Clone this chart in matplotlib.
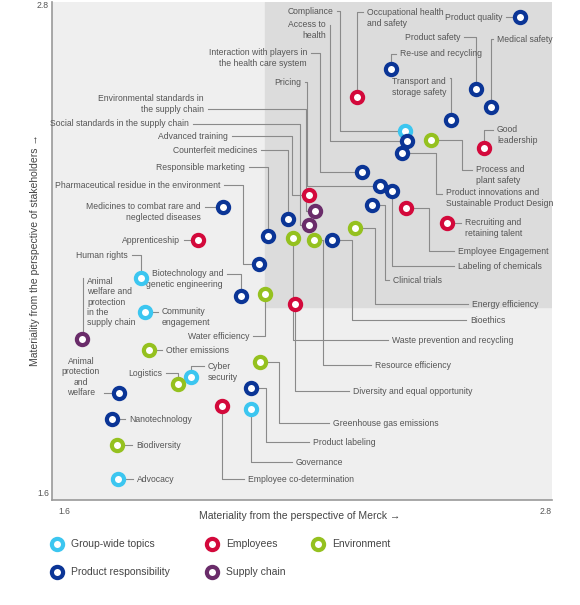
import matplotlib
matplotlib.use("Agg")
import matplotlib.pyplot as plt
from matplotlib.patches import Rectangle

plt.rcParams['font.family'] = ['Liberation Sans', 'DejaVu Sans']

# --- data: materiality scores (Merck, stakeholders) ---
topics = [
    "Product quality", "Medical safety", "Product safety", "Re-use and recycling",
    "Transport and\nstorage safety", "Occupational health\nand safety", "Compliance",
    "Access to\nhealth", "Good\nleadership", "Process and\nplant safety",
    "Product innovations and\nSustainable Product Design",
    "Interaction with players in\nthe health care system", "Pricing",
    "Environmental standards in\nthe supply chain", "Social standards in the supply chain",
    "Advanced training", "Counterfeit medicines", "Responsible marketing",
    "Pharmaceutical residue in the environment",
    "Medicines to combat rare and\nneglected diseases", "Apprenticeship", "Human rights",
    "Biotechnology and\ngenetic engineering", "Water efficiency",
    "Animal\nwelfare and\nprotection\nin the\nsupply chain", "Community\nengagement",
    "Other emissions", "Cyber\nsecurity", "Logistics",
    "Animal\nprotection\nand\nwelfare", "Nanotechnology", "Biodiversity", "Advocacy",
    "Greenhouse gas emissions", "Product labeling", "Governance",
    "Employee co-determination", "Diversity and equal opportunity",
    "Resource efficiency", "Waste prevention and recycling", "Bioethics",
    "Energy efficiency", "Clinical trials", "Labeling of chemicals",
    "Employee Engagement", "Recruiting and\nretaining talent",
]
merck = [2.723, 2.654, 2.618, 2.414, 2.558, 2.332, 2.447, 2.452, 2.637, 2.510,
         2.440, 2.344, 2.387, 2.231, 2.217, 2.217, 2.166, 2.118, 2.097, 2.010,
         1.950, 1.814, 2.054, 2.111, 1.672, 1.823, 1.833, 1.934, 1.902, 1.761,
         1.744, 1.756, 1.758, 2.099, 2.078, 2.078, 2.008, 2.183, 2.229, 2.178,
         2.272, 2.327, 2.368, 2.416, 2.450, 2.548]
stakeholders = [2.764, 2.547, 2.591, 2.639, 2.516, 2.571, 2.489, 2.465, 2.448, 2.468,
                2.436, 2.390, 2.357, 2.296, 2.263, 2.335, 2.277, 2.236, 2.169, 2.306,
                2.227, 2.135, 2.092, 2.096, 1.988, 2.053, 1.962, 1.896, 1.880, 1.858,
                1.795, 1.733, 1.651, 1.933, 1.870, 1.819, 1.827, 2.072, 2.227, 2.231,
                2.227, 2.256, 2.311, 2.345, 2.304, 2.268]
groups = ["prod", "prod", "prod", "prod", "prod", "emp", "group", "prod", "emp", "env",
          "prod", "prod", "prod", "supply", "supply", "emp", "prod", "prod", "prod", "prod",
          "emp", "group", "prod", "env", "supply", "group", "env", "group", "env", "prod",
          "prod", "env", "group", "env", "prod", "group", "emp", "emp", "env", "env",
          "prod", "env", "prod", "prod", "emp", "emp"]

group_names = {"group": "Group-wide topics", "emp": "Employees", "env": "Environment",
               "prod": "Product responsibility", "supply": "Supply chain"}
colors = {"group": "#3cc6f0", "emp": "#d3093b", "env": "#95c11f",
          "prod": "#0b3596", "supply": "#6a2c6a"}

# label layout in pixels: text x, text y, ha, line y, elbow x
layout = [
    (502, 17, "right", 17, 520), (497, 39, "left", 39, 491), (460, 37, "right", 37, 476),
    (400, 54, "left", 54, 391), (446, 87, "right", 78, 451), (367, 18, "left", 12, 357),
    (333, 11, "right", 11, 340), (326, 30, "right", 25, 330), (497, 135, "left", 130, 484),
    (476, 175, "left", 170, 462), (446, 198, "left", 194, 436), (307, 58, "right", 53, 320),
    (301, 82, "right", 82, 307), (204, 104, "right", 109, 306), (189, 124, "right", 124, 300),
    (228, 136, "right", 136, 292), (257, 150, "right", 150, 288), (245, 167, "right", 167, 268),
    (220, 185, "right", 185, 243), (201, 212, "right", 207, 223), (180, 240, "right", 240, 198),
    (128, 255, "right", 255, 141), (223, 279, "right", 274, 241), (249, 336, "right", 336, 265),
    (87, 302, "left", 278, 83), (162, 317, "left", 312, 145), (166, 350, "left", 350, 149),
    (208, 372, "left", 366, 191), (162, 373, "right", 373, 178), (100, 377, "right", 393, 119),
    (129, 419, "left", 419, 112), (136, 445, "left", 445, 117), (137, 479, "left", 479, 118),
    (333, 423, "left", 423, 279), (313, 442, "left", 442, 266), (296, 462, "left", 462, 251),
    (248, 479, "left", 479, 222), (353, 391, "left", 391, 295), (375, 365, "left", 365, 323),
    (392, 340, "left", 340, 293), (470, 320, "left", 320, 352), (472, 304, "left", 304, 375),
    (393, 280, "left", 280, 385), (458, 266, "left", 266, 392), (458, 251, "left", 251, 429),
    (465, 228, "left", 223, 447),
]


def P(px, py):
    return 1.6 + (px - 52) / 500 * 1.2, 2.8 - (py - 2) / 498 * 1.2


fig = plt.figure(figsize=(5.8, 6.05), dpi=100)
ax = fig.add_axes([52 / 580, 105 / 605, 500 / 580, 498 / 605])
ax.set_xlim(1.6, 2.8)
ax.set_ylim(1.6, 2.8)
ax.set_facecolor("#efefef")
x0, y0 = P(265, 307)
ax.add_patch(Rectangle((x0, y0), 2.8 - x0, 2.8 - y0, color="#dcdcdc", zorder=0))
for s in ["top", "right"]:
    ax.spines[s].set_visible(False)
for s in ["left", "bottom"]:
    ax.spines[s].set_color("#999999")
    ax.spines[s].set_linewidth(1.2)
ax.set_xticks([])
ax.set_yticks([])

txt = dict(fontsize=6.2, color="#555555")
for name, mx, sy, (tx, ty, ha, ly, cx) in zip(topics, merck, stakeholders, layout):
    sx = tx - 4 if ha == "left" else tx + 4
    if name.startswith("Animal\nprotection"):
        sx = tx + 4
    lx0, ly0 = P(sx, ly)
    cxd, _ = P(cx, ly)
    ax.plot([lx0, cxd, cxd, mx], [ly0, ly0, sy, sy], color="#8a8a8a", lw=0.8, zorder=1)
    px, py = P(tx, ty)
    ax.text(px, py, name, ha=ha, va="center", linespacing=1.2,
            multialignment="center" if name.startswith("Animal\nprotection") else ha,
            **txt)

for g in colors:
    xs = [m for m, gg in zip(merck, groups) if gg == g]
    ys = [s for s, gg in zip(stakeholders, groups) if gg == g]
    ax.scatter(xs, ys, s=65, facecolor="white", edgecolor=colors[g], linewidth=3.0, zorder=3)

# axis end labels
fig.text(43 / 580, 1 - 6 / 605, "2.8", ha="center", va="center", **txt)
fig.text(43 / 580, 1 - 493 / 605, "1.6", ha="center", va="center", **txt)
fig.text(64 / 580, 1 - 512 / 605, "1.6", ha="center", va="center", **txt)
fig.text(546 / 580, 1 - 512 / 605, "2.8", ha="center", va="center", **txt)
fig.text(300 / 580, 1 - 516 / 605, "Materiality from the perspective of Merck \u2192",
         ha="center", va="center", fontsize=7.5, color="#444444")
fig.text(35 / 580, 1 - 250 / 605, "Materiality from the perspective of stakeholders \u2192",
         ha="center", va="center", rotation=90, fontsize=7.5, color="#444444")

# legend
lax = fig.add_axes([0, 0, 1, 1], facecolor="none")
lax.set_xlim(0, 580)
lax.set_ylim(605, 0)
lax.axis("off")
legend_pos = [("group", 57, 544), ("emp", 212, 544), ("env", 318, 544),
              ("prod", 57, 572), ("supply", 212, 572)]
for g, lx, ly in legend_pos:
    lax.scatter([lx], [ly], s=65, facecolor="white", edgecolor=colors[g], linewidth=3.0)
    lax.text(lx + 14, ly, group_names[g], va="center", fontsize=7.5, color="#444444")

fig.savefig("out.png", dpi=100)
